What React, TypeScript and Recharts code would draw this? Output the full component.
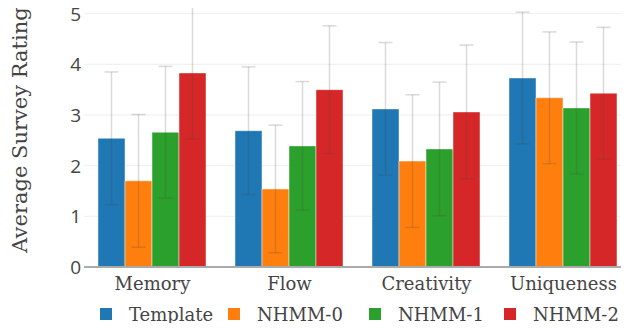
import { BarChart, Bar, XAxis, YAxis, CartesianGrid, Legend, ErrorBar } from 'recharts'

const categories = ['Memory', 'Flow', 'Creativity', 'Uniqueness']
const template = [2.54, 2.69, 3.12, 3.73]
const templateErr = [1.31, 1.26, 1.31, 1.3]
const nhmm0 = [1.7, 1.54, 2.09, 3.34]
const nhmm0Err = [1.31, 1.26, 1.31, 1.3]
const nhmm1 = [2.66, 2.39, 2.33, 3.14]
const nhmm1Err = [1.3, 1.27, 1.32, 1.3]
const nhmm2 = [3.83, 3.5, 3.06, 3.43]
const nhmm2Err = [1.3, 1.26, 1.32, 1.3]
const yTicks = [0, 1, 2, 3, 4, 5]

const series = [
  { key: 'template', name: 'Template', color: '#1f77b4', slot: 128 },
  { key: 'nhmm0', name: 'NHMM-0', color: '#ff7f0e', slot: 141 },
  { key: 'nhmm1', name: 'NHMM-1', color: '#2ca02c', slot: 135 },
  { key: 'nhmm2', name: 'NHMM-2', color: '#d62728', slot: 120 },
]

const data = categories.map((c, i) => ({
  category: c,
  template: template[i],
  templateErr: templateErr[i],
  nhmm0: nhmm0[i],
  nhmm0Err: nhmm0Err[i],
  nhmm1: nhmm1[i],
  nhmm1Err: nhmm1Err[i],
  nhmm2: nhmm2[i],
  nhmm2Err: nhmm2Err[i],
}))

const serif = '"DejaVu Serif", serif'
const sans = '"Open Sans", sans-serif'

function LegendContent() {
  return (
    <div style={{ display: 'flex', height: 34, alignItems: 'center', paddingLeft: 100, fontFamily: serif, fontSize: 18, color: '#444' }}>
      {series.map((s) => (
        <div key={s.key} style={{ display: 'flex', alignItems: 'center', width: s.slot, flex: 'none' }}>
          <span style={{ width: 12, height: 12, background: s.color, display: 'inline-block', marginRight: 17 }} />
          <span>{s.name}</span>
        </div>
      ))}
    </div>
  )
}

function YTitle(props: any) {
  const { viewBox } = props
  const cx = 20
  const cy = viewBox.y + viewBox.height / 2 - 4
  return (
    <text x={cx} y={cy} transform={`rotate(-90, ${cx}, ${cy})`} textAnchor="middle" dominantBaseline="central" fill="#444" fontFamily={serif} fontSize={21}>
      Average Survey Rating
    </text>
  )
}

function YTick(props: any) {
  const { x, y, payload } = props
  return (
    <text x={x - 1} y={y} dy={7} textAnchor="end" fill="#444" fontFamily={sans} fontSize={19}>
      {payload.value}
    </text>
  )
}

export default function App() {
  return (
    <div style={{ margin: -8, width: 629, height: 331, overflow: 'hidden', background: '#fff' }}>
      <BarChart
        width={632}
        height={331}
        data={data}
        margin={{ top: 1, right: 0, bottom: 0, left: 0 }}
        barCategoryGap={14}
        barGap={0}
      >
        <CartesianGrid vertical={false} stroke="#eee" strokeWidth={1} />
        <XAxis
          dataKey="category"
          height={30}
          tick={{ fill: '#444', fontSize: 18, fontFamily: serif }}
          tickLine={false}
          axisLine={{ stroke: '#aaa', strokeWidth: 2 }}
          tickMargin={4}
        />
        <YAxis
          width={84}
          domain={[0, 5.25]}
          ticks={yTicks}
          allowDataOverflow
          tick={<YTick />}
          tickLine={false}
          tickSize={0}
          axisLine={false}
          label={<YTitle />}
        />
        <Legend verticalAlign="bottom" content={<LegendContent />} />
        {series.map((s) => (
          <Bar
            key={s.key}
            dataKey={s.key}
            name={s.name}
            fill={s.color}
            stroke="#fff"
            strokeOpacity={0.45}
            strokeWidth={1}
            isAnimationActive={false}
          >
            <ErrorBar dataKey={`${s.key}Err`} width={7} stroke="#444" strokeOpacity={0.2} strokeWidth={1.5} direction="y" />
          </Bar>
        ))}
      </BarChart>
    </div>
  )
}
